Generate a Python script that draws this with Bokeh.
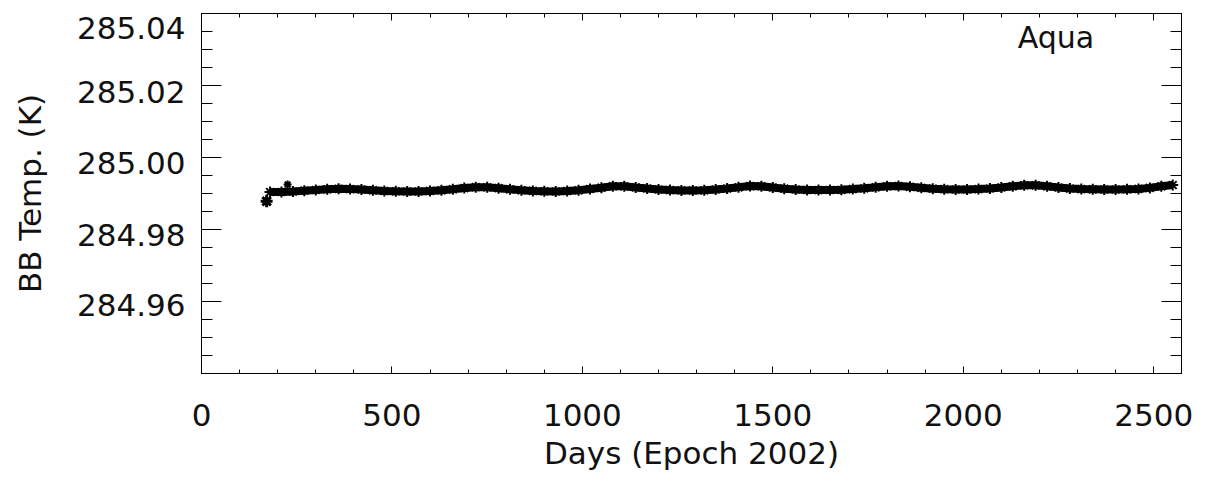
from bokeh.plotting import figure
from bokeh.models import FixedTicker, LinearAxis, Range1d, Label
from bokeh.embed import file_html
from bokeh.resources import INLINE

# ---- data ----
days = [180, 210, 240, 270, 300, 330, 360, 390, 420, 450, 480, 510, 540, 570, 600,
        630, 660, 690, 720, 750, 780, 810, 840, 870, 900, 930, 960, 990, 1020, 1050,
        1080, 1110, 1140, 1170, 1200, 1230, 1260, 1290, 1320, 1350, 1380, 1410, 1440,
        1470, 1500, 1530, 1560, 1590, 1620, 1650, 1680, 1710, 1740, 1770, 1800, 1830,
        1860, 1890, 1920, 1950, 1980, 2010, 2040, 2070, 2100, 2130, 2160, 2190, 2220,
        2250, 2280, 2310, 2340, 2370, 2400, 2430, 2460, 2490, 2520, 2550]
bb_temp = [284.99042, 284.99042, 284.99056, 284.99078, 284.99097, 284.99117, 284.99131,
           284.99122, 284.99111, 284.99089, 284.99069, 284.99061, 284.99056, 284.99056,
           284.99072, 284.99089, 284.99117, 284.99150, 284.99175, 284.99172, 284.99147,
           284.99117, 284.99089, 284.99072, 284.99061, 284.99056, 284.99069, 284.99089,
           284.99125, 284.99161, 284.99200, 284.99200, 284.99169, 284.99139, 284.99111,
           284.99094, 284.99086, 284.99083, 284.99089, 284.99111, 284.99139, 284.99172,
           284.99206, 284.99200, 284.99167, 284.99133, 284.99111, 284.99097, 284.99094,
           284.99097, 284.99103, 284.99122, 284.99144, 284.99172, 284.99200, 284.99208,
           284.99186, 284.99158, 284.99133, 284.99119, 284.99111, 284.99111, 284.99122,
           284.99139, 284.99167, 284.99200, 284.99228, 284.99228, 284.99200, 284.99167,
           284.99139, 284.99122, 284.99117, 284.99111, 284.99111, 284.99117, 284.99128,
           284.99156, 284.99200, 284.99236]
outlier_days = [171, 226]
outlier_temp = [284.98786, 284.99250]

x_ticks = [0, 500, 1000, 1500, 2000, 2500]
x_minor = [v for v in range(0, 2600, 100)]
y_ticks = [284.96, 284.98, 285.00, 285.02, 285.04]
y_minor = [284.94 + 0.005 * i for i in range(21)]
# where the reference prints each y tick label (slightly below its tick, as IDL does)
y_label_pos = [284.95889, 284.97861, 284.99861, 285.01833, 285.03611]
y_label_text = ["284.96", "284.98", "285.00", "285.02", "285.04"]

FONT = "DejaVu Sans"

p = figure(width=1210, height=481, output_backend="svg", toolbar_location=None,
           x_range=Range1d(0, 2573), y_range=Range1d(284.94, 285.04),
           min_border_left=201, min_border_right=29, min_border_top=13, min_border_bottom=108,
           background_fill_color="white", border_fill_color="white")
p.outline_line_color = "black"
p.outline_line_width = 1
p.grid.visible = False

def style(ax, show_labels, major_in, minor_in):
    ax.axis_line_color = "black"
    ax.major_tick_in = major_in
    ax.major_tick_out = 0
    ax.minor_tick_in = minor_in
    ax.minor_tick_out = 0
    ax.major_tick_line_color = "black"
    ax.minor_tick_line_color = "black"
    ax.major_label_text_font = FONT
    ax.major_label_text_font_size = "31px"
    ax.major_label_text_color = "#111111"
    ax.axis_label_text_font = FONT
    ax.axis_label_text_font_size = "31px"
    ax.axis_label_text_font_style = "normal"
    ax.axis_label_text_color = "#111111"
    if not show_labels:
        ax.major_label_text_font_size = "0px"
        ax.major_label_text_alpha = 0
        ax.major_label_standoff = 0

# bottom x-axis
xa = p.xaxis[0]
xa.ticker = FixedTicker(ticks=x_ticks, minor_ticks=x_minor)
xa.axis_label = "Days (Epoch 2002)"
style(xa, True, 7, 4)
xa.major_label_standoff = 30
xa.axis_label_standoff = 6

# left y-axis: tick marks only
ya = p.yaxis[0]
ya.ticker = FixedTicker(ticks=y_ticks, minor_ticks=y_minor)
style(ya, False, 20, 11)

# left y-axis: tick labels + axis title
yl = LinearAxis(ticker=FixedTicker(ticks=y_label_pos, minor_ticks=[]))
style(yl, True, 0, 0)
yl.axis_line_color = None
yl.major_tick_line_color = None
yl.minor_tick_line_color = None
yl.major_label_overrides = dict(zip(y_label_pos, y_label_text))
yl.major_label_standoff = 16
yl.axis_label = "BB Temp. (K)"
yl.axis_label_standoff = 26
p.add_layout(yl, "left")

# top & right mirrored axes
top = LinearAxis(ticker=FixedTicker(ticks=x_ticks, minor_ticks=x_minor))
style(top, False, 7, 4)
p.add_layout(top, "above")
right = LinearAxis(ticker=FixedTicker(ticks=y_ticks, minor_ticks=y_minor))
style(right, False, 20, 11)
p.add_layout(right, "right")

# data
p.line(days, bb_temp, line_color="black", line_width=8)
p.scatter(days, bb_temp, marker="asterisk", size=11, line_color="black", line_width=2)
p.scatter(outlier_days[:1], outlier_temp[:1], marker="asterisk", size=12, line_color="black", line_width=3)
p.scatter(outlier_days[1:], outlier_temp[1:], marker="asterisk", size=8, line_color="black", line_width=2)

# satellite name
p.add_layout(Label(x=2143, y=285.04, text="Aqua", y_offset=-6,
                   text_align="left", text_baseline="top",
                   text_font=FONT, text_font_size="30px", text_color="#111111"))

open("out.html", "w").write(file_html(p, INLINE))
